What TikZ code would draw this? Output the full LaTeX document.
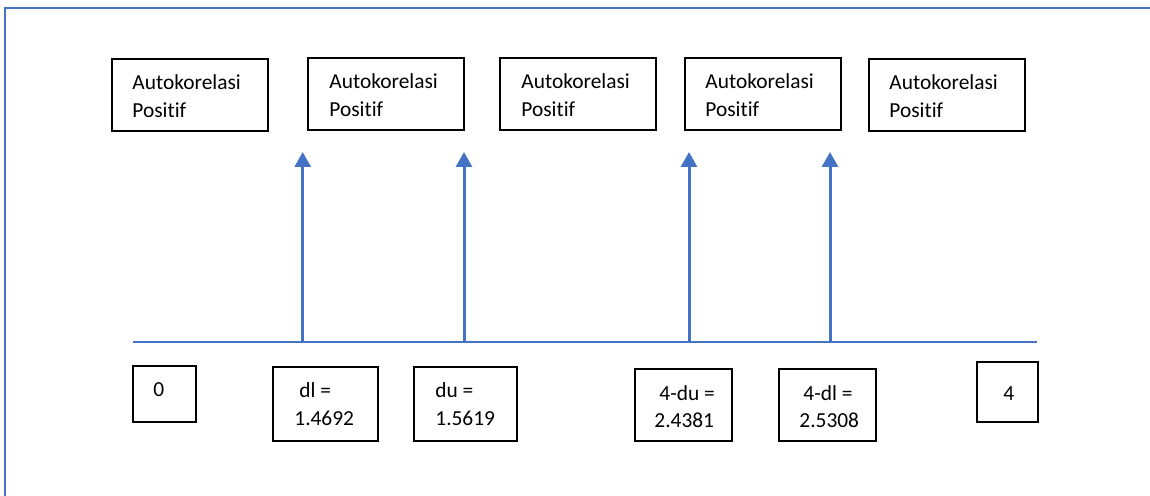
\documentclass[tikz,border=0pt]{standalone}
\usepackage{fontspec}
\setmainfont[Ligatures=NoCommon]{Carlito}
\usetikzlibrary{arrows.meta}
\definecolor{wblue}{HTML}{4472C4}
\begin{document}
\begin{tikzpicture}[x=0.5pt,y=-0.5pt,
  boxnode/.style={draw=black,line width=1pt,inner sep=0pt},
  txt/.style={anchor=base west,inner sep=0pt,font=\fontsize{10.7pt}{14pt}\selectfont},
  axisline/.style={draw=wblue,line width=1pt},
  uparrow/.style={draw=wblue,line width=1.5pt,-{Triangle[width=8pt,length=7.5pt]}},
  framel/.style={draw=wblue,line width=0.6pt}]
\useasboundingbox (0,0) rectangle (1150,496);
% frame
\coordinate (f1) at (5,496);
\coordinate (f2) at (5,8);
\coordinate (f3) at (1150,8);
\draw[framel] (f1) -- (f2) -- (f3);
% top boxes
\node[boxnode,minimum width=78pt,minimum height=36pt] (a1) at (190,95) {};
\node[boxnode,minimum width=78pt,minimum height=36pt] (a2) at (386,94) {};
\node[boxnode,minimum width=78pt,minimum height=36pt] (a3) at (578,94) {};
\node[boxnode,minimum width=78pt,minimum height=36pt] (a4) at (762.5,94) {};
\node[boxnode,minimum width=78pt,minimum height=36pt] (a5) at (946.5,95) {};
\foreach \n/\x/\y in {1/132/89.3,2/329/89,3/521/89,4/705/89,5/889/89.3}{
  \node[txt] (ta\n) at (\x,\y) {Autokorelasi};
  \node[txt] (tb\n) at (\x,\y+28) {Positif};
}
% axis
\coordinate (axL) at (133,342);
\coordinate (axR) at (1037,342);
\draw[axisline] (axL) -- (axR);
% arrows
\coordinate (p1) at (302.7,342); \coordinate (q1) at (302.7,152);
\coordinate (p2) at (464,342);   \coordinate (q2) at (464,152);
\coordinate (p3) at (689,342);   \coordinate (q3) at (689,152);
\coordinate (p4) at (830,342);   \coordinate (q4) at (830,152);
\draw[uparrow] (p1) -- (q1);
\draw[uparrow] (p2) -- (q2);
\draw[uparrow] (p3) -- (q3);
\draw[uparrow] (p4) -- (q4);
% bottom boxes
\node[boxnode,minimum width=31.5pt,minimum height=28pt] (b0) at (164.5,394) {};
\node[boxnode,minimum width=52.5pt,minimum height=37pt] (b1) at (325.5,404) {};
\node[boxnode,minimum width=51.5pt,minimum height=37pt] (b2) at (465.5,404) {};
\node[boxnode,minimum width=48.5pt,minimum height=36pt] (b3) at (683.5,405) {};
\node[boxnode,minimum width=48.5pt,minimum height=36pt] (b4) at (827.5,405) {};
\node[boxnode,minimum width=30.5pt,minimum height=30pt] (b5) at (1007.5,392) {};
\node[txt] (c0) at (153,396.7) {0};
\node[txt] (c1a) at (299,397.7) {dl =};
\node[txt] (c1b) at (294,425.7) {1.4692};
\node[txt] (c2a) at (435,397.7) {du =};
\node[txt] (c2b) at (435,425.7) {1.5619};
\node[txt] (c3a) at (659,400.7) {4-du =};
\node[txt] (c3b) at (654,427.7) {2.4381};
\node[txt] (c4a) at (803,400.7) {4-dl =};
\node[txt] (c4b) at (799,427.7) {2.5308};
\node[txt] (c5) at (1003,400.7) {4};
\end{tikzpicture}
\end{document}
